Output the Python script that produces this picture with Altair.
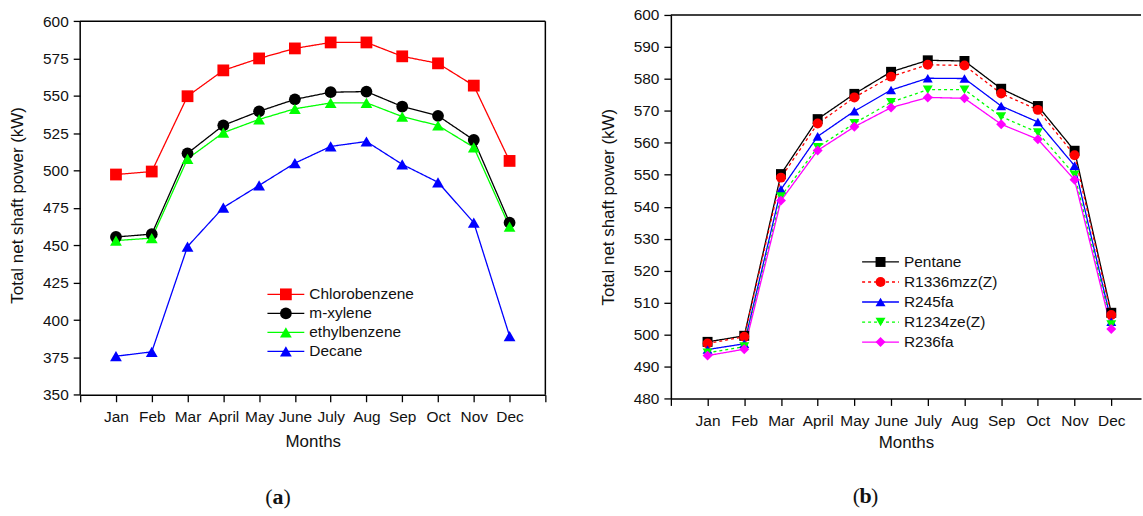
import altair as alt
import pandas as pd

MONTHS = ["Jan", "Feb", "Mar", "April", "May", "June", "July", "Aug", "Sep", "Oct", "Nov", "Dec"]

# Panel (a)
A_SERIES = ["Chlorobenzene", "m-xylene", "ethylbenzene", "Decane"]
A_CHLORO = [497.4, 499.4, 549.8, 567.1, 575.1, 581.8, 585.8, 585.8, 576.5, 571.8, 556.9, 506.5]
A_MXYL = [455.6, 457.5, 511.6, 530.3, 539.7, 547.7, 552.5, 552.9, 542.9, 536.7, 520.5, 465.2]
A_ETHYL = [453.2, 454.8, 507.9, 525.4, 534.3, 541.4, 545.3, 545.4, 536.2, 530.2, 515.6, 462.5]
A_DECANE = [375.8, 378.7, 449.2, 475.3, 490.1, 505.0, 516.2, 519.5, 504.2, 492.2, 465.2, 389.3]
A_COLORS = ["#ff0000", "#000000", "#00ff00", "#0000ff"]
A_SHAPES = ["square", "circle", "triangle-up", "triangle-up"]
A_DASHES = [[1, 0], [1, 0], [1, 0], [1, 0]]
A_YTICKS = [350, 375, 400, 425, 450, 475, 500, 525, 550, 575, 600]

# Panel (b)
B_SERIES = ["Pentane", "R1336mzz(Z)", "R245fa", "R1234ze(Z)", "R236fa"]
B_PENTANE = [497.7, 499.6, 550.2, 567.4, 575.3, 582.2, 585.8, 585.6, 576.9, 571.5, 557.5, 506.8]
B_R1336 = [497.2, 499.3, 549.1, 566.0, 574.2, 580.7, 584.4, 584.2, 575.4, 570.3, 556.1, 506.1]
B_R245 = [495.3, 497.1, 545.4, 562.0, 569.9, 576.5, 580.2, 580.1, 571.5, 566.5, 552.8, 504.0]
B_R1234 = [494.3, 496.2, 543.2, 558.6, 566.1, 572.7, 576.6, 576.6, 568.2, 563.2, 550.0, 503.1]
B_R236 = [493.4, 495.4, 541.9, 557.6, 565.0, 571.0, 574.2, 573.9, 565.8, 561.1, 548.4, 501.7]
B_COLORS = ["#000000", "#ff0000", "#0000ff", "#00ff00", "#ff00ff"]
B_SHAPES = ["square", "circle", "triangle-up", "triangle-down", "diamond"]
B_DASHES = [[1, 0], [3, 3], [1, 0], [3, 3], [1, 0]]
B_YTICKS = [480, 490, 500, 510, 520, 530, 540, 550, 560, 570, 580, 590, 600]

FONT = "Liberation Sans"
SERIF = "Liberation Serif"
LABEL_SIZE = 15.5
TITLE_SIZE = 17


def long_df(series, values):
    rows = []
    for k, (name, vals) in enumerate(zip(series, values)):
        for i, v in enumerate(vals):
            rows.append({"s": name, "o": k, "m": i + 1, "v": v})
    return pd.DataFrame(rows)


def panel(df, series, colors, shapes, dashes, msize, yticks, ytop, width, height,
          xmax, xticks, legend_top, legend_step, legend_x, tag, tag_x, tag_y, box,
          xtitle_pad):
    label_arr = "[" + ",".join(["''"] + ["'%s'" % m for m in MONTHS] + ["''"]) + "]"
    xaxis = alt.Axis(values=xticks, labelExpr=label_arr + "[datum.value]",
                     title="Months", grid=False, labelOverlap=False,
                     labelFlush=False, labelPadding=8, titlePadding=xtitle_pad)
    yaxis = alt.Axis(values=yticks, title="Total net shaft power (kW)",
                     grid=False, labelFlush=False, labelOverlap=False, labelPadding=5,
                     domain=not box, minExtent=40, maxExtent=40, titlePadding=14)
    yscale = alt.Scale(domain=[yticks[0], ytop], nice=False, zero=False)
    x = alt.X("m:Q", scale=alt.Scale(domain=[0, xmax], nice=False, zero=False), axis=xaxis)
    y = alt.Y("v:Q", scale=yscale, axis=yaxis)
    color = alt.Color("s:N", scale=alt.Scale(domain=series, range=colors), legend=None)
    dash = alt.StrokeDash("s:N", scale=alt.Scale(domain=series, range=dashes), legend=None)
    shape = alt.Shape("s:N", scale=alt.Scale(domain=series, range=shapes), legend=None)

    lines = alt.Chart(df).mark_line(strokeWidth=1.3).encode(
        x=x, y=y, color=color, strokeDash=dash, order="m:Q")
    points = alt.Chart(df).mark_point(filled=True, opacity=1, size=msize).encode(
        x=x, y=y, color=color, shape=shape)

    layers = [lines, points]
    one_row = pd.DataFrame({"k": [0]})

    def ydat(v):
        return alt.YDatum(v, axis=yaxis, scale=yscale)

    def y2dat(v):
        return alt.Y2Datum(v)

    # plot frame
    layers.append(alt.Chart(one_row).mark_rule(color="#000000", strokeWidth=1.5).encode(
        x=alt.value(0), x2=alt.value(width), y=ydat(yticks[-1])))
    if box:
        layers.append(alt.Chart(one_row).mark_rule(color="#000000", strokeWidth=1.5).encode(
            x=alt.value(0), y=ydat(yticks[0]), y2=y2dat(yticks[-1])))
        layers.append(alt.Chart(one_row).mark_rule(color="#000000", strokeWidth=1.5).encode(
            x=alt.value(width), y=ydat(yticks[0]), y2=y2dat(yticks[-1])))

    # legend drawn inside the plot
    for k, name in enumerate(series):
        ly = legend_top + k * legend_step
        one = pd.DataFrame({"label": [name]})
        layers.append(alt.Chart(one).mark_rule(
            color=colors[k], strokeWidth=1.3, strokeDash=dashes[k]).encode(
            x=alt.value(legend_x), x2=alt.value(legend_x + 37), y=alt.value(ly)))
        layers.append(alt.Chart(one).mark_point(
            filled=True, opacity=1, size=msize, shape=shapes[k], color=colors[k]).encode(
            x=alt.value(legend_x + 18.5), y=alt.value(ly)))
        layers.append(alt.Chart(one).mark_text(
            align="left", baseline="middle", font=FONT, fontSize=LABEL_SIZE,
            color="#111111").encode(
            x=alt.value(legend_x + 42), y=alt.value(ly), text="label:N"))
    # panel tag "(a)" / "(b)"
    tag_df = pd.DataFrame({"t": ["(", tag, ")"]})
    layers.append(alt.Chart(tag_df.iloc[[0]]).mark_text(
        align="right", baseline="alphabetic", font=SERIF, fontSize=22, color="#111111").encode(
        x=alt.value(tag_x - 5.5), y=alt.value(tag_y), text="t:N"))
    layers.append(alt.Chart(tag_df.iloc[[1]]).mark_text(
        align="center", baseline="alphabetic", font=SERIF, fontSize=22, fontWeight="bold",
        color="#111111").encode(
        x=alt.value(tag_x), y=alt.value(tag_y), text="t:N"))
    layers.append(alt.Chart(tag_df.iloc[[2]]).mark_text(
        align="left", baseline="alphabetic", font=SERIF, fontSize=22, color="#111111").encode(
        x=alt.value(tag_x + 5.5), y=alt.value(tag_y), text="t:N"))

    ch = alt.layer(*layers).properties(
        width=width, height=height,
        view=alt.ViewBackground(stroke="transparent"))
    return ch


df_a = long_df(A_SERIES, [A_CHLORO, A_MXYL, A_ETHYL, A_DECANE])
df_b = long_df(B_SERIES, [B_PENTANE, B_R1336, B_R245, B_R1234, B_R236])

# left panel: plot box 375 px tall, starting 6.3 px below the right panel's top
left = panel(df_a, A_SERIES, A_COLORS, A_SHAPES, A_DASHES, 140, A_YTICKS, 604.2,
             467, 381.3, 13, list(range(0, 14)),
             280.5, 19.1, 188, "a", 198.5, 491, True, 8)
right = panel(df_b, B_SERIES, B_COLORS, B_SHAPES, B_DASHES, 100, B_YTICKS, 600,
              472, 385, 12.81, list(range(0, 13)),
              248, 20.1, 192, "b", 195.5, 490, False, 6)

chart = alt.hconcat(left, right, spacing=51).resolve_scale(
    color="independent", shape="independent", strokeDash="independent"
).properties(
    padding={"left": 7.5, "top": 6, "right": 0, "bottom": 0},
    background="#ffffff"
).configure_axis(
    domainColor="#000000", domainWidth=1.5, tickColor="#000000", tickWidth=1.3,
    tickSize=7, labelFont=FONT, labelFontSize=LABEL_SIZE, labelColor="#111111",
    titleFont=FONT, titleFontSize=TITLE_SIZE, titleFontWeight="normal",
    titleColor="#111111"
)

chart.save("out.html", embed_options={"renderer": "svg", "actions": False})
